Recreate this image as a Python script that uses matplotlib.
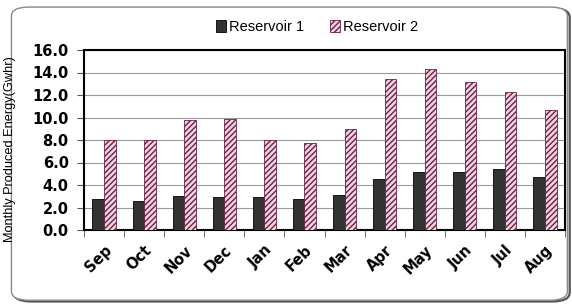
import numpy as np
import matplotlib.pyplot as plt
import matplotlib.transforms as mtransforms
from matplotlib.patches import FancyBboxPatch

plt.rcParams['font.family'] = ['Liberation Sans', 'DejaVu Sans']
plt.rcParams['hatch.linewidth'] = 1.0

# Data
months = ['Sep', 'Oct', 'Nov', 'Dec', 'Jan', 'Feb', 'Mar', 'Apr', 'May', 'Jun', 'Jul', 'Aug']
reservoir1 = [2.8, 2.6, 3.0, 2.9, 2.9, 2.8, 3.1, 4.5, 5.2, 5.2, 5.4, 4.7]
reservoir2 = [8.0, 8.0, 9.8, 9.9, 8.0, 7.7, 9.0, 13.4, 14.3, 13.2, 12.3, 10.7]

fig = plt.figure(figsize=(5.72, 3.07), dpi=100)

# Rounded outer frame with a small shadow
shadow = FancyBboxPatch((0.024, 0.018), 0.972, 0.955, boxstyle='round,pad=0,rounding_size=0.03',
                        transform=fig.transFigure, facecolor='none', edgecolor='#555555', lw=1.6,
                        zorder=-2)
frame = FancyBboxPatch((0.02, 0.022), 0.972, 0.955, boxstyle='round,pad=0,rounding_size=0.03',
                       transform=fig.transFigure, facecolor='white', edgecolor='#888888', lw=1.0,
                       zorder=-1)
fig.patches.extend([shadow, frame])

ax = fig.add_axes([84 / 572, 1 - 230 / 307, 481 / 572, 180 / 307])
ax.set_zorder(1)

x = np.arange(len(months))
w = 0.29
b1 = ax.bar(x - w / 2, reservoir1, w, color='#333333', edgecolor='black', lw=0.6, label='Reservoir 1', zorder=3)
b2 = ax.bar(x + w / 2, reservoir2, w, color='#f3d3e0', edgecolor='#6a2048', hatch='//////', lw=0.6,
            label='Reservoir 2', zorder=3)

tick_font = dict(family='DejaVu Sans', fontweight='bold', fontsize=10.5)

ax.set_xlim(-0.5, len(months) - 0.5)
ax.set_ylim(0, 16)
ax.set_yticks(np.arange(0, 16.1, 2))
ax.set_yticklabels([f'{v:.1f}' for v in np.arange(0, 16.1, 2)], **tick_font)
ax.yaxis.grid(True, color='#999999', lw=0.8, zorder=0)
ax.set_axisbelow(True)

ax.set_xticks(x)
ax.set_xticklabels(months, rotation=45, ha='right', va='top', rotation_mode='anchor', **tick_font)
shift = mtransforms.ScaledTranslation(5 / 100, 0, fig.dpi_scale_trans)
for lbl in ax.get_xticklabels():
    lbl.set_transform(lbl.get_transform() + shift)
ax.tick_params(axis='x', length=0, pad=9)
ax.set_xticks(np.arange(-0.5, len(months), 1), minor=True)
ax.tick_params(axis='x', which='minor', length=5, color='#555555', direction='out')
ax.tick_params(axis='y', length=5, color='#555555', direction='out', pad=6)

for s in ax.spines.values():
    s.set_linewidth(1.5)
    s.set_color('black')

ax.set_ylabel('Monthly Produced Energy(Gwhr)', fontsize=9.2)
ax.yaxis.set_label_coords(-0.141, 0.45)

fig.legend(handles=[b1, b2], loc='center', bbox_to_anchor=(0.554, 0.912), ncol=2, frameon=False,
           fontsize=10.5, handlelength=0.7, handleheight=0.8, handletextpad=0.2, columnspacing=1.8)

fig.savefig('out.png', dpi=100)
